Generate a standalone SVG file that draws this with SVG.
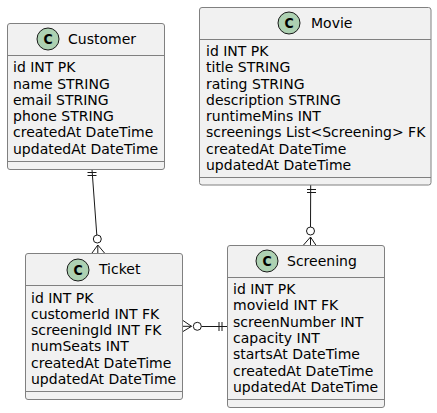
<svg xmlns="http://www.w3.org/2000/svg" width="437" height="413" viewBox="0 0 437 413">
<style>
.box{fill:#f1f1f1;stroke:#808080;stroke-width:1}
.sep{stroke:#808080;stroke-width:1;fill:none}
.spot{fill:#add1b2;stroke:#181818;stroke-width:1}
text{font-family:"DejaVu Sans",sans-serif;font-size:14px;fill:#000}
text.c{font-family:"DejaVu Sans Condensed","DejaVu Sans",sans-serif;font-weight:bold;font-size:14px;text-anchor:middle}
.conn path,.conn circle{fill:none;stroke:#181818;stroke-width:1}
</style>
<rect width="437" height="413" fill="#fff"/>
<g id="connectors" class="conn">
<path d="M92 169.500 L96.800 235"/>
<path d="M87.500 172.500 L96.500 172.500 M87.500 175.500 L96.500 175.500"/>
<circle cx="97.300" cy="239" r="4"/>
<path d="M97.800 245 L92 253 M97.800 245 L97.800 253 M97.800 245 L104.500 253"/>
<path d="M310.700 185 L310.500 227"/>
<path d="M307 189.500 L316 189.500 M307 192.500 L316 192.500"/>
<circle cx="310.500" cy="231" r="4"/>
<path d="M310.500 237 L303.500 245 M310.500 237 L310.500 245 M310.500 237 L315.800 245"/>
<path d="M201.500 326.500 L227 326.500"/>
<path d="M219 322 L219 331 M222 322 L222 331"/>
<circle cx="197.300" cy="326.300" r="4"/>
<path d="M191.500 326.300 L183 320.500 M191.500 326.300 L183 326.300 M191.500 326.300 L183 331.500"/>
</g>
<g id="customer">
<rect class="box" x="7.500" y="23.500" width="157" height="146" rx="2.500"/>
<path class="sep" d="M7.500 55.500H164.500M7.500 161.500H164.500"/>
<circle class="spot" cx="48" cy="39" r="11"/><text class="c" x="48" y="44">C</text>
<text x="68" y="44">Customer</text>
<text x="13" y="72">id INT PK</text>
<text x="13" y="89">name STRING</text>
<text x="13" y="105">email STRING</text>
<text x="13" y="121">phone STRING</text>
<text x="13" y="137">createdAt DateTime</text>
<text x="13" y="154">updatedAt DateTime</text>
</g>
<g id="ticket">
<rect class="box" x="25.500" y="253.500" width="157" height="146" rx="2.500"/>
<path class="sep" d="M25.500 285.500H182.500M25.500 391.500H182.500"/>
<circle class="spot" cx="78" cy="270" r="11"/><text class="c" x="78" y="275">C</text>
<text x="99" y="274">Ticket</text>
<text x="31" y="303">id INT PK</text>
<text x="31" y="319">customerId INT FK</text>
<text x="31" y="335">screeningId INT FK</text>
<text x="31" y="351">numSeats INT</text>
<text x="31" y="368">createdAt DateTime</text>
<text x="31" y="384">updatedAt DateTime</text>
</g>
<g id="movie">
<rect class="box" x="199.500" y="7.500" width="231.500" height="177.500" rx="2.500"/>
<path class="sep" d="M199.500 39.500H431M199.500 177.500H431"/>
<circle class="spot" cx="289" cy="23" r="11"/><text class="c" x="289" y="28">C</text>
<text x="311" y="28">Movie</text>
<text x="206" y="56">id INT PK</text>
<text x="206" y="72">title STRING</text>
<text x="206" y="89">rating STRING</text>
<text x="206" y="105">description STRING</text>
<text x="206" y="121">runtimeMins INT</text>
<text x="206" y="137">screenings List&lt;Screening&gt; FK</text>
<text x="206" y="154">createdAt DateTime</text>
<text x="206" y="170">updatedAt DateTime</text>
</g>
<g id="screening">
<rect class="box" x="227.500" y="245.500" width="157" height="162" rx="2.500"/>
<path class="sep" d="M227.500 277.500H384.500M227.500 399.500H384.500"/>
<circle class="spot" cx="267" cy="261" r="11"/><text class="c" x="267" y="266">C</text>
<text x="287" y="266">Screening</text>
<text x="233" y="294">id INT PK</text>
<text x="233" y="310">movieId INT FK</text>
<text x="233" y="327">screenNumber INT</text>
<text x="233" y="343">capacity INT</text>
<text x="233" y="359">startsAt DateTime</text>
<text x="233" y="376">createdAt DateTime</text>
<text x="233" y="392">updatedAt DateTime</text>
</g>
</svg>
